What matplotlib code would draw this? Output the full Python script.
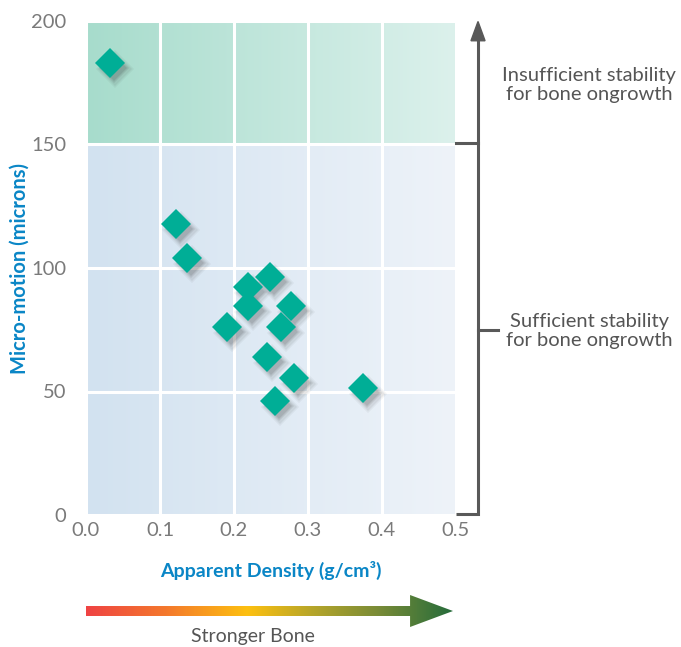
import numpy as np
import matplotlib
matplotlib.use("Agg")
import matplotlib.pyplot as plt
from matplotlib.colors import LinearSegmentedColormap
from matplotlib.patches import Polygon
from matplotlib.transforms import offset_copy, blended_transform_factory

plt.rcParams['font.family'] = ['Lato', 'DejaVu Sans']

# ---- data ----
density = [0.033, 0.122, 0.137, 0.248, 0.219, 0.219, 0.277, 0.190, 0.263, 0.245, 0.281, 0.374, 0.255]
micromotion = [183, 118, 104, 96.5, 92.5, 84.5, 84.5, 76, 76, 64, 55.5, 51.5, 46]
x_ticks = [0.0, 0.1, 0.2, 0.3, 0.4, 0.5]
x_tick_labels = ["0.0", "0.1", "0.2", "0.3", "0.4", "0.5"]
y_ticks = [0, 50, 100, 150, 200]
y_tick_labels = ["0", "50", "100", "150", "200"]
threshold = 150
zone_labels = ["Insufficient stability\nfor bone ongrowth", "Sufficient stability\nfor bone ongrowth"]
x_label = "Apparent Density (g/cm³)"
y_label = "Micro-motion (microns)"
arrow_label = "Stronger Bone"

W, H = 681, 647
fig = plt.figure(figsize=(W / 100, H / 100), dpi=100)
ax = fig.add_axes([86 / W, (H - 515) / H, 370 / W, 494 / H])
ax.set_xlim(0, 0.5)
ax.set_ylim(0, 200)

# background gradients
grad = np.linspace(0, 1, 256).reshape(1, -1)
green_cmap = LinearSegmentedColormap.from_list("g", ["#a7dccc", "#dcf1ec"])
blue_cmap = LinearSegmentedColormap.from_list("b", ["#d2e2f0", "#eef3f9"])
ax.imshow(grad, cmap=green_cmap, extent=[0, 0.5, threshold, 200], aspect='auto', zorder=0)
ax.imshow(grad, cmap=blue_cmap, extent=[0, 0.5, 0, threshold], aspect='auto', zorder=0)
ax.set_xlim(0, 0.5)
ax.set_ylim(0, 200)

ax.set_axisbelow(True)
ax.grid(True, color='white', linewidth=2.2, zorder=0.5)
for s in ax.spines.values():
    s.set_visible(False)
ax.set_xticks(x_ticks)
ax.set_xticklabels(x_tick_labels)
ax.set_yticks(y_ticks)
ax.set_yticklabels(y_tick_labels)
ax.tick_params(length=0, labelsize=14.5, labelcolor='#7a7a7a')
ax.tick_params(axis='y', pad=14)
ax.tick_params(axis='x', pad=5)

ax.set_xlabel(x_label, fontsize=14, fontweight='bold', color='#0a86c6', labelpad=16)
ax.set_ylabel(y_label, fontsize=14.5, fontweight='bold', color='#0a86c6')
ax.yaxis.set_label_coords(-0.152, 0.5)

# shadows
for i, (dx, dy, ms, a) in enumerate([(5, -6, 19, 0.05), (5, -6, 17, 0.07), (4, -5, 15, 0.10), (4, -5, 13, 0.12)]):
    tr = offset_copy(ax.transData, fig=fig, x=dx, y=dy, units='dots')
    ax.plot(density, micromotion, linestyle='none', marker='D', ms=ms, color='#2a2a2a',
            alpha=a, markeredgewidth=0, transform=tr, zorder=2)
ax.plot(density, micromotion, linestyle='none', marker='D', ms=15, color='#00ae96',
        markeredgewidth=0, zorder=3)

# right bracket
bt = blended_transform_factory(ax.transAxes, ax.transData)
lc = '#595959'
ax.plot([1.0, 1.0595, 1.0595], [0.6, 0.6, 195], color=lc, lw=2.2, transform=bt, clip_on=False,
        solid_capstyle='butt', solid_joinstyle='miter')
ax.plot([1.0, 1.0595], [threshold + 0.5, threshold + 0.5], color=lc, lw=2.2, transform=bt, clip_on=False)
ax.plot([1.0595, 1.114], [75, 75], color=lc, lw=2.2, transform=bt, clip_on=False)
ax.add_patch(Polygon([[1.0405, 192], [1.0595, 199.8], [1.0785, 192]], closed=True, color=lc,
                     transform=bt, clip_on=False))
ax.text(1.36, 174, zone_labels[0], transform=bt, ha='center', va='center', fontsize=14.5,
        color='#555555', linespacing=1.18)
ax.text(1.36, 74.5, zone_labels[1], transform=bt, ha='center', va='center', fontsize=14.5,
        color='#555555', linespacing=1.18)

# bottom gradient arrow
aax = fig.add_axes([86 / W, (H - 627) / H, 367 / W, 32 / H])
aax.set_xlim(0, 1)
aax.set_ylim(0, 1)
aax.axis('off')
arrow_cmap = LinearSegmentedColormap.from_list(
    "a", [(0, "#ef4343"), (0.22, "#f4792c"), (0.44, "#fdc010"), (0.62, "#b5a52a"),
          (0.8, "#788b37"), (1.0, "#266c3b")])
im = aax.imshow(grad, cmap=arrow_cmap, extent=[0, 1, 0, 1], aspect='auto')
poly = Polygon([[0, 0.344], [0.883, 0.344], [0.883, 0], [1, 0.5], [0.883, 1], [0.883, 0.656], [0, 0.656]],
               closed=True, transform=aax.transData, facecolor='none', edgecolor='none')
aax.add_patch(poly)
im.set_clip_path(poly)
fig.text(253 / W, 2 / H, arrow_label, ha='center', va='bottom', fontsize=14, color='#555555')

fig.savefig("out.png", dpi=100)
